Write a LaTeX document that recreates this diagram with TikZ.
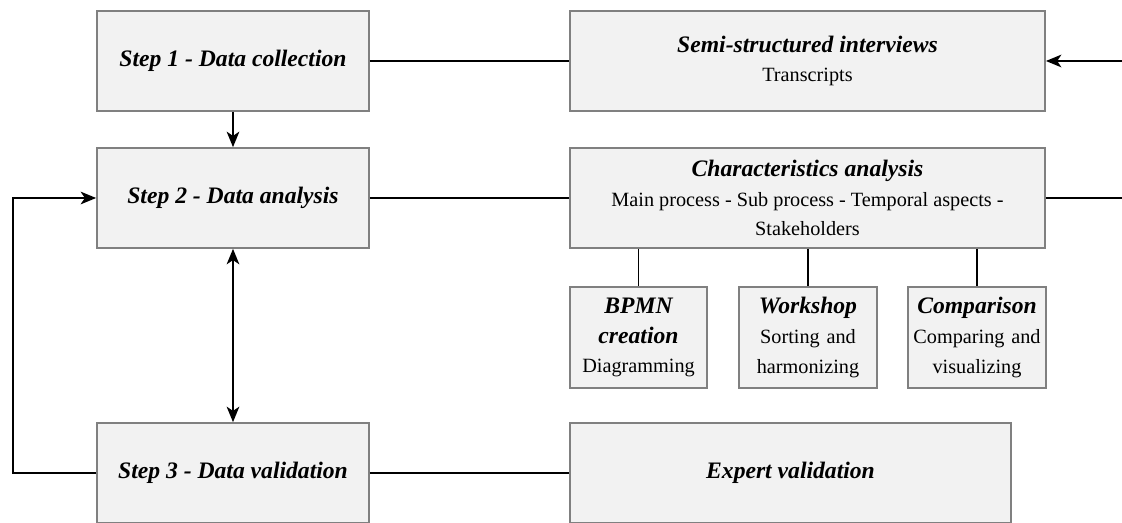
\documentclass[tikz,border=0pt]{standalone}
\usepackage{fontspec}
\setmainfont{Liberation Serif}
\usetikzlibrary{arrows.meta}

\newcommand\hd[1]{{\fontsize{16.8}{21}\selectfont\bfseries\itshape #1}}

\begin{document}
\begin{tikzpicture}[x=0.025cm, y=-0.025cm,
        box/.style={draw=black!50, fill=black!5, line width=1.2pt, inner sep=2pt, align=center,
            font=\fontsize{14.4}{21}\selectfont},
        stepbox/.style={box, minimum width=6.8cm, minimum height=2.5cm},
        widebox/.style={box, minimum width=11.875cm, minimum height=2.5cm},
        smallbox/.style={box, minimum width=3.375cm, minimum height=2.525cm, text width=3.3cm},
        link/.style={line width=1.3pt},
        tip/.style={Stealth[length=11pt, width=9pt, inset=3pt]},
        arr/.style={link, -{Stealth[length=11pt, width=9pt, inset=3pt]}}]
        \useasboundingbox (0, 0) rectangle (1122, 523);
        % steps
        \node[stepbox] (s1) at (233, 61)  {\hd{Step 1 - Data collection}};
        \node[stepbox] (s2) at (233, 198) {\hd{Step 2 - Data analysis}};
        \node[stepbox] (s3) at (233, 473) {\hd{Step 3 - Data validation}};
        % methods
        \node[widebox] (semi) at (807.5, 61)
            {\hd{Semi-structured interviews}\\Transcripts};
        \node[widebox] (char) at (807.5, 198)
            {\hd{Characteristics analysis}\\
             Main process - Sub process - Temporal aspects -\\Stakeholders};
        \node[smallbox] (bpmn) at (638.5, 337.5)
            {\hd{BPMN}\\\hd{creation}\\Diagramming};
        \node[smallbox] (work) at (808, 337.5)
            {\hd{Workshop}\\Sorting and\\harmonizing};
        \node[smallbox] (comp) at (977, 337.5)
            {\hd{Comparison}\\Comparing and\\visualizing};
        \node[box, minimum width=11.025cm, minimum height=2.5cm] (expert) at (790.5, 473)
            {\hd{Expert validation}};
        % loose ends on the right edge
        \coordinate (in1) at (1122, 61);
        \coordinate (out2) at (1122, 198);
        \coordinate (back) at (13, 473);

        \draw[arr] (s1) -- (s2);
        \draw[link, {Stealth[length=11pt, width=9pt, inset=3pt]}-{Stealth[length=11pt, width=9pt, inset=3pt]}] (s2) -- (s3);
        \draw[arr] (s3.west) -- (back) |- (s2.west);
        \draw[link] (s1) -- (semi);
        \draw[link] (s2) -- (char);
        \draw[link] (s3) -- (expert);
        \draw[arr] (in1) -- (semi.east);
        \draw[link] (char.east) -- (out2);
        \draw[link] (char.south -| bpmn.north) -- (bpmn.north);
        \draw[link] (char.south -| work.north) -- (work.north);
        \draw[link] (char.south -| comp.north) -- (comp.north);
    \end{tikzpicture}
\end{document}
